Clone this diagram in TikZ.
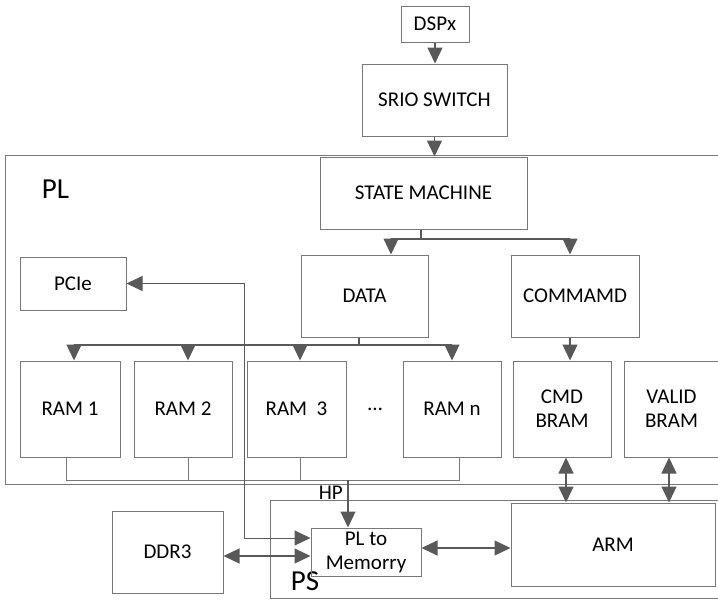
\documentclass[tikz,border=0pt]{standalone}
\usepackage{fontspec}
\setmainfont{Carlito}
\usetikzlibrary{arrows.meta}
\definecolor{edge}{HTML}{777777}
\definecolor{wire}{HTML}{595959}
\tikzset{
  blk/.style={draw=edge, line width=1pt, align=center, inner sep=0pt,
    font=\fontsize{21}{24}\selectfont},
  tip/.tip={Triangle[length=16pt,width=15pt]},
  arr/.style={draw=wire, line width=1.2pt, -tip},
  dbl/.style={draw=wire, line width=1.2pt, tip-tip},
  bus/.style={draw=edge, line width=1pt},
  region/.style={draw=edge, line width=1pt},
  biglabel/.style={font=\fontsize{29}{32}\selectfont, inner sep=0pt},
  smalllabel/.style={font=\fontsize{21}{24}\selectfont, inner sep=0pt}
}
\begin{document}
\begin{tikzpicture}[x=1pt,y=-1pt]
\useasboundingbox (0,0) rectangle (718,600);

% PL and PS regions (open on the right)
\draw[region] (720,155) -- (5,155) -- (5,484) -- (720,484);
\draw[region] (720,500) -- (270,500) -- (270,598) -- (720,598);
\node[biglabel] (pl) at (55.5,189) {PL};
\node[biglabel] (ps) at (305,581) {PS};

% blocks
\node[blk, minimum width=68, minimum height=36] (dsp) at (435,24) {DSPx};
\node[blk, minimum width=145, minimum height=72] (srio) at (434.5,100) {SRIO SWITCH};
\node[blk, minimum width=207, minimum height=72] (sm) at (423.5,193) {STATE MACHINE};
\node[blk, minimum width=106, minimum height=53] (pcie) at (73,283.5) {PCIe};
\node[blk, minimum width=127, minimum height=82] (data) at (364.5,296) {DATA};
\node[blk, minimum width=128, minimum height=82] (cmd) at (575,296) {COMMAMD};
\node[blk, minimum width=100, minimum height=96] (ram1) at (70,409) {RAM 1};
\node[blk, minimum width=98, minimum height=96] (ram2) at (183,409) {RAM 2};
\node[blk, minimum width=99, minimum height=96] (ram3) at (296.5,409) {RAM\ \ 3};
\node[smalllabel] (dots) at (375,409) {\dots};
\node[blk, minimum width=98, minimum height=96] (ramn) at (452,409) {RAM n};
\node[blk, minimum width=98, minimum height=96] (cbram) at (562,409) {CMD\\BRAM};
\node[blk, minimum width=95, minimum height=96] (vbram) at (671.5,409) {VALID\\BRAM};
\node[blk, minimum width=111, minimum height=82] (ddr) at (167.5,552) {DDR3};
\node[blk, minimum width=110, minimum height=48] (plm) at (366,552) {PL to\\Memorry};
\node[blk, minimum width=204, minimum height=83] (arm) at (613,544.5) {ARM};

% input chain
\draw[arr] (dsp.south) -- (dsp.south |- srio.north);
\draw[arr] (srio.south) -- (srio.south |- sm.north);

% state machine fan-out
\coordinate (smj) at (421,239);
\draw[wire, line width=1.2pt] (smj |- sm.south) -- (smj);
\draw[arr] (smj) -| ([xshift=26.5]data.north);
\draw[arr] (smj) -| ([xshift=-5]cmd.north);

% data fan-out to the RAMs
\coordinate (dj) at (359,345);
\draw[wire, line width=1.2pt] (dj |- data.south) -- (dj);
\draw[arr] (dj) -| ([xshift=4]ram1.north);
\draw[arr] (dj) -| ([xshift=5]ram2.north);
\draw[arr] (dj) -| ([xshift=3.5]ram3.north);
\draw[arr] (dj) -| (ramn.north);

% command path
\draw[arr] ([xshift=-5]cmd.south) -- ([xshift=-5]cmd.south |- cbram.north);

% RAM output bus and HP port
\coordinate (rb) at (348,480);
\draw[bus] ([xshift=-4]ram1.south) |- (rb);
\draw[bus] ([xshift=5]ram2.south) |- (rb);
\draw[bus] ([xshift=3.5]ram3.south) |- (rb);
\draw[bus] ([xshift=7]ramn.south) |- (rb);
\draw[arr] (rb) -- (rb |- plm.north);
\node[smalllabel, anchor=east] (hp) at (343,493) {HP};

% PCIe link
\coordinate (pc) at (244,538);
\draw[draw=wire, line width=1pt, tip-tip]
  (pcie.east) -| (pc) -- (pc -| plm.west);

% memory side links
\draw[dbl] ([yshift=-4]ddr.east) -- ([yshift=-4]plm.west);
\draw[dbl] ([yshift=4]plm.east) -- ([yshift=4]plm.east -| arm.west);
\draw[dbl] ([xshift=4]cbram.south) -- ([xshift=4]cbram.south |- arm.north);
\draw[dbl] ([xshift=-2.5]vbram.south) -- ([xshift=-2.5]vbram.south |- arm.north);
\end{tikzpicture}
\end{document}
